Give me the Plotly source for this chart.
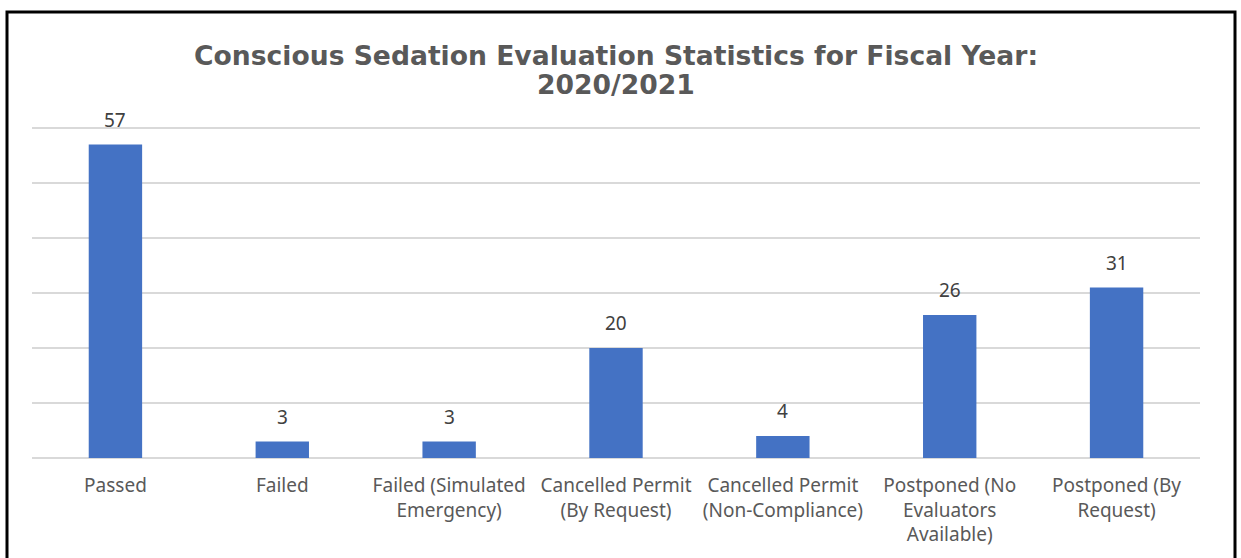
import plotly.graph_objects as go

categories = ["Passed", "Failed", "Failed (Simulated<br>Emergency)", "Cancelled Permit<br>(By Request)",
              "Cancelled Permit<br>(Non-Compliance)", "Postponed (No<br>Evaluators<br>Available)",
              "Postponed (By<br>Request)"]
values = [57, 3, 3, 20, 4, 26, 31]
title_lines = ["Conscious Sedation Evaluation Statistics for Fiscal Year:", "2020/2021"]

W, H = 1241, 558
L, R, T, B = 32, 41, 127, 100
ymax = 60.2
pw = W - L - R
ph = H - T - B


def px_x(x):
    return (x - L) / pw


def px_y(y):
    return (H - B - y) / ph


fig = go.Figure(go.Bar(
    x=categories, y=values,
    marker=dict(color="#4472C4", line=dict(width=0)),
    cliponaxis=False,
))

annotations = []
for c, v in zip(categories, values):
    annotations.append(dict(x=c, y=v, xref="x", yref="y", text=str(v), showarrow=False,
                            yanchor="middle", yshift=25,
                            font=dict(family="Noto Sans", size=19, color="#404040")))
for i, line in enumerate(title_lines):
    annotations.append(dict(x=0.5, xref="paper", y=px_y(55 + 30 * i), yref="paper",
                            text="<b>%s</b>" % line, showarrow=False, yanchor="middle",
                            font=dict(family="DejaVu Sans", size=26.6, color="#595959")))

fig.update_layout(
    width=W, height=H,
    margin=dict(l=L, r=R, t=T, b=B, pad=0),
    paper_bgcolor="white", plot_bgcolor="white",
    bargap=0.68,
    showlegend=False,
    xaxis=dict(showgrid=False, showline=False, ticks="", ticklabelstandoff=14,
               tickfont=dict(family="Noto Sans", size=19, color="#595959"), tickangle=0),
    yaxis=dict(range=[0, ymax], dtick=10, showticklabels=False, showgrid=True,
               gridcolor="#D9D9D9", gridwidth=1.5, zeroline=True, zerolinecolor="#D9D9D9",
               zerolinewidth=2, showline=False, ticks=""),
    shapes=[dict(type="rect", xref="paper", yref="paper",
                 x0=px_x(7), x1=px_x(1235), y0=px_y(565), y1=px_y(12),
                 line=dict(color="black", width=3), fillcolor="rgba(0,0,0,0)", layer="above")],
    annotations=annotations,
)

fig.write_html("out.html")
